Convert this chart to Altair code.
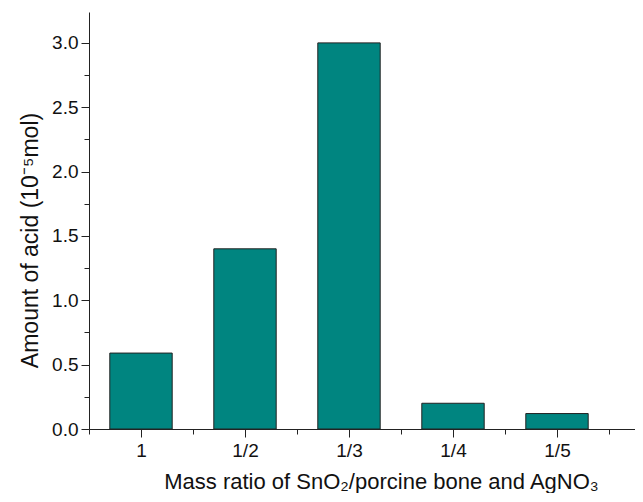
import altair as alt
import pandas as pd

categories = ["1", "1/2", "1/3", "1/4", "1/5"]
positions = [1, 2, 3, 4, 5]
values = [0.59, 1.40, 3.00, 0.20, 0.12]
y_minor = [0.25, 0.75, 1.25, 1.75, 2.25, 2.75]
y_major = [0.0, 0.5, 1.0, 1.5, 2.0, 2.5, 3.0]
x_minor = [0.5, 1.5, 2.5, 3.5, 4.5, 5.5]

df = pd.DataFrame({"cat": categories, "pos": positions, "val": values})

FONT = "Liberation Sans"
xdom = [0.5, 5.75]
ydom = [0, 3.24]

label_expr = ("datum.value==1?'1':datum.value==2?'1/2':datum.value==3?'1/3':"
              "datum.value==4?'1/4':'1/5'")

bars = alt.Chart(df).transform_calculate(
    x0="datum.pos - 0.3", x1="datum.pos + 0.3"
).mark_bar(color="#008580", stroke="#222222", strokeWidth=1).encode(
    x=alt.X("x0:Q", scale=alt.Scale(domain=xdom, nice=False, zero=False),
            axis=alt.Axis(values=positions, labelExpr=label_expr, orient="bottom",
                          title="Mass ratio of SnO₂/porcine bone and AgNO₃",
                          titleFontSize=22, titleFontWeight="normal", titleFont=FONT,
                          titleX=292, titleY=59, titleAlign="center",
                          titleBaseline="alphabetic",
                          labelFontSize=19, labelFont=FONT,
                          labelPadding=4, tickSize=8, tickColor="#222", domainColor="#222",
                          labelColor="#111", titleColor="#111", grid=False, labelFlush=False)),
    x2="x1:Q",
    y=alt.Y("val:Q", scale=alt.Scale(domain=ydom, nice=False),
            axis=alt.Axis(values=y_major, format=".1f", orient="left",
                          title="Amount of acid (10⁻⁵mol)",
                          titleFontSize=23, titleFontWeight="normal", titleFont=FONT,
                          titleX=-59, titleY=228, titleAlign="center", titleAngle=-90,
                          titleBaseline="middle",
                          labelFontSize=19, labelFont=FONT,
                          labelPadding=3, tickSize=8, tickColor="#222", domainColor="#222",
                          labelColor="#111", titleColor="#111", grid=False)),
    y2=alt.datum(0),
)

minor_y = alt.Chart(pd.DataFrame({"v": y_minor})).mark_point(opacity=0).encode(
    y=alt.Y("v:Q", scale=alt.Scale(domain=ydom, nice=False),
            axis=alt.Axis(values=y_minor, labels=False, title=None, orient="left",
                          tickSize=5, tickColor="#222", domain=False, grid=False)),
)

minor_x = alt.Chart(pd.DataFrame({"v": x_minor})).mark_point(opacity=0).encode(
    x=alt.X("v:Q", scale=alt.Scale(domain=xdom, nice=False, zero=False),
            axis=alt.Axis(values=x_minor, labels=False, title=None, orient="bottom",
                          tickSize=5, tickColor="#222", domain=False, grid=False)),
)

chart = alt.layer(bars, minor_y, minor_x).resolve_axis(
    x="independent", y="independent"
).properties(
    width=546, height=417,
    padding={"left": 81, "top": 4, "right": 0, "bottom": 64},
    autosize=alt.AutoSizeParams(type="none"),
    background="white",
).configure_view(stroke=None)

chart.save("out.html", embed_options={"renderer": "svg", "actions": False})
